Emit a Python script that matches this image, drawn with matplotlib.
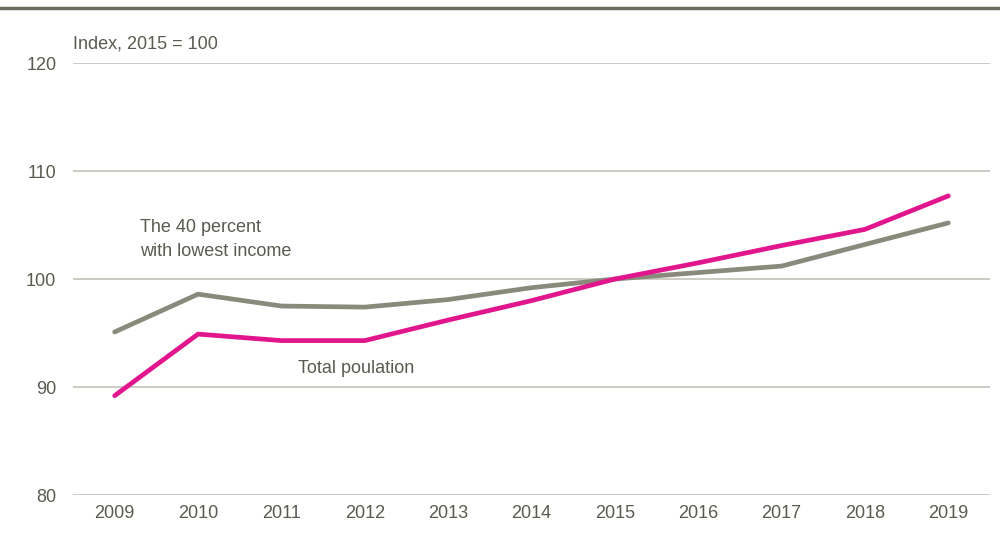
import matplotlib
matplotlib.use("Agg")
import matplotlib.pyplot as plt
from matplotlib.lines import Line2D

years = [2009, 2010, 2011, 2012, 2013, 2014, 2015, 2016, 2017, 2018, 2019]
lowest40 = [95.1, 98.6, 97.5, 97.4, 98.1, 99.2, 100.0, 100.6, 101.2, 103.2, 105.2]
total = [89.2, 94.9, 94.3, 94.3, 96.2, 98.0, 100.0, 101.5, 103.1, 104.6, 107.7]
yticks = [80, 90, 100, 110, 120]

plt.rcParams['font.family'] = ['Liberation Sans', 'DejaVu Sans']
txt = '#5a5a50'
grey = '#8a8a7c'
pink = '#e2168c'

fig = plt.figure(figsize=(10, 5.39), dpi=100)
ax = fig.add_axes([0.073, 0.0816, 0.917, 0.8014])
for v in yticks:
    ax.axhline(v, color='#c8c8c0', lw=1.3, zorder=1)
ax.plot(years, lowest40, color=grey, lw=3.4, solid_capstyle='round', zorder=3)
ax.plot(years, total, color=pink, lw=3.4, solid_capstyle='round', zorder=4)
ax.set_xlim(2008.5, 2019.5)
ax.set_ylim(80, 120)
ax.set_xticks(years)
ax.set_xticklabels([str(y) for y in years])
ax.set_yticks(yticks)
for s in ax.spines.values():
    s.set_visible(False)
ax.tick_params(length=0, labelsize=13, colors=txt)
ax.tick_params(axis='x', pad=7)
ax.tick_params(axis='y', pad=12)
ax.text(2009.3, 105.6, "The 40 percent\nwith lowest income", color=txt, fontsize=13,
        va='top', ha='left', linespacing=1.55)
ax.text(2011.2, 91.7, "Total poulation", color=txt, fontsize=13, va='center', ha='left')
ax.text(0.0, 1.025, "Index, 2015 = 100", transform=ax.transAxes, color=txt, fontsize=13,
        va='bottom', ha='left')
fig.add_artist(Line2D([0, 1], [1 - 8/539, 1 - 8/539], transform=fig.transFigure,
                      color='#6b6b5e', lw=2.5))
fig.savefig('out.png', dpi=100)
